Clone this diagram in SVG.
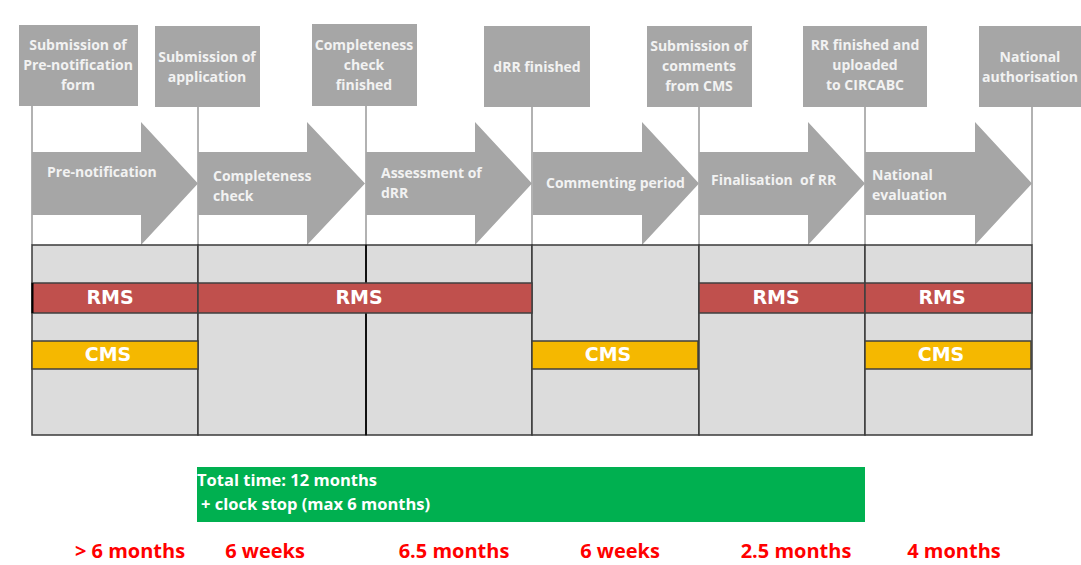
<svg xmlns="http://www.w3.org/2000/svg" width="1081" height="565" viewBox="0 0 1081 565">
<style>
.box{fill:#a6a6a6}
.bt{font-family:"Open Sans","DejaVu Sans",sans-serif;font-weight:bold;font-size:14px;fill:#f2f2f2;text-anchor:middle}
.at{font-family:"Open Sans","DejaVu Sans",sans-serif;font-weight:bold;font-size:14px;fill:#f2f2f2}
.arrow{fill:#a6a6a6}
.vl{stroke:#7f7f7f;stroke-width:1.2;fill:none}
.cell{fill:#dcdcdc;stroke:#3a3a3a;stroke-width:1.5}
.rms{fill:#c0504d;stroke:#3f3f3f;stroke-width:1.5}
.cms{fill:#f5b800;stroke:#3f3f3f;stroke-width:1.5}
.bar{font-family:"DejaVu Sans",sans-serif;font-weight:bold;font-size:19px;fill:#ffffff;text-anchor:middle}
.gt{font-family:"Open Sans",sans-serif;font-weight:bold;font-size:16.5px;fill:#ffffff}
.dur{font-family:"Open Sans",sans-serif;font-weight:bold;font-size:20px;fill:#ff0000;text-anchor:middle}
</style>
<rect width="1081" height="565" fill="#ffffff"/>

<g id="connectors">
<line class="vl" x1="32" y1="106" x2="32" y2="245"/>
<line class="vl" x1="198" y1="107" x2="198" y2="245"/>
<line class="vl" x1="366" y1="106" x2="366" y2="245"/>
<line class="vl" x1="532" y1="107" x2="532" y2="245"/>
<line class="vl" x1="699" y1="107" x2="699" y2="245"/>
<line class="vl" x1="865" y1="107" x2="865" y2="245"/>
<line class="vl" x1="1032" y1="107" x2="1032" y2="245"/>
</g>

<g id="milestone-1"><rect class="box" x="19" y="25" width="119" height="81"/>
<text class="bt" x="78" y="50">Submission of</text><text class="bt" x="78" y="70">Pre-notification</text><text class="bt" x="78" y="90">form</text></g>
<g id="milestone-2"><rect class="box" x="155" y="26" width="105" height="81"/>
<text class="bt" x="207" y="62">Submission of</text><text class="bt" x="207" y="82">application</text></g>
<g id="milestone-3"><rect class="box" x="312" y="24" width="105" height="82"/>
<text class="bt" x="364" y="50">Completeness</text><text class="bt" x="364" y="70">check</text><text class="bt" x="364" y="90">finished</text></g>
<g id="milestone-4"><rect class="box" x="484" y="26" width="106" height="81"/>
<text class="bt" x="537" y="72">dRR finished</text></g>
<g id="milestone-5"><rect class="box" x="647" y="26" width="105" height="81"/>
<text class="bt" x="699" y="51">Submission of</text><text class="bt" x="699" y="71">comments</text><text class="bt" x="699" y="91">from CMS</text></g>
<g id="milestone-6"><rect class="box" x="803" y="26" width="124" height="81"/>
<text class="bt" x="865" y="50">RR finished and</text><text class="bt" x="865" y="70">uploaded</text><text class="bt" x="865" y="90">to CIRCABC</text></g>
<g id="milestone-7"><rect class="box" x="979" y="26" width="102" height="81"/>
<text class="bt" x="1030" y="62">National</text><text class="bt" x="1030" y="82">authorisation</text></g>

<g id="phase-1"><polygon class="arrow" points="32,152 141,152 141,122 198,183.5 141,245 141,215 32,215"/>
<text class="at" x="47" y="177">Pre-notification</text></g>
<g id="phase-2"><polygon class="arrow" points="198,152 307,152 307,122 365,183.5 307,245 307,215 198,215"/>
<text class="at" x="213" y="181">Completeness</text><text class="at" x="213" y="201">check</text></g>
<g id="phase-3"><polygon class="arrow" points="366,152 475,152 475,122 532,183.5 475,245 475,215 366,215"/>
<text class="at" x="381" y="178">Assessment of</text><text class="at" x="381" y="198">dRR</text></g>
<g id="phase-4"><polygon class="arrow" points="533,152 642,152 642,122 699,183.5 642,245 642,215 533,215"/>
<text class="at" x="546" y="188">Commenting period</text></g>
<g id="phase-5"><polygon class="arrow" points="699,152 808,152 808,122 865,183.5 808,245 808,215 699,215"/>
<text class="at" x="711" y="185" xml:space="preserve">Finalisation  of RR</text></g>
<g id="phase-6"><polygon class="arrow" points="865,152 975,152 975,122 1032,183.5 975,245 975,215 865,215"/>
<text class="at" x="872" y="180">National</text><text class="at" x="872" y="200">evaluation</text></g>

<g id="table">
<rect class="cell" x="32" y="245" width="166" height="190"/>
<rect class="cell" x="198" y="245" width="168" height="190"/>
<rect class="cell" x="366" y="245" width="166" height="190"/>
<rect class="cell" x="532" y="245" width="167" height="190"/>
<rect class="cell" x="699" y="245" width="166" height="190"/>
<rect class="cell" x="865" y="245" width="167" height="190"/>
<line x1="366" y1="245" x2="366" y2="435" stroke="#111" stroke-width="2"/>
</g>

<g id="rms-1"><rect class="rms" x="32" y="283" width="166" height="30"/><line x1="32.5" y1="283" x2="32.5" y2="313" stroke="#000" stroke-width="2"/><text class="bar" x="110" y="304">RMS</text></g>
<g id="rms-2"><rect class="rms" x="198" y="283" width="334" height="30"/><text class="bar" x="359" y="304">RMS</text></g>
<g id="rms-3"><rect class="rms" x="699" y="283" width="166" height="30"/><text class="bar" x="776" y="304">RMS</text></g>
<g id="rms-4"><rect class="rms" x="865" y="283" width="167" height="30"/><text class="bar" x="942" y="304">RMS</text></g>

<g id="cms-1"><rect class="cms" x="32" y="341" width="166" height="28"/><text class="bar" x="108" y="361">CMS</text></g>
<g id="cms-2"><rect class="cms" x="532" y="341" width="166" height="28"/><text class="bar" x="608" y="361">CMS</text></g>
<g id="cms-3"><rect class="cms" x="865" y="341" width="166" height="28"/><text class="bar" x="941" y="361">CMS</text></g>

<g id="total-time"><rect x="197" y="467" width="668" height="55" fill="#00b050"/>
<text class="gt" x="197" y="486">Total time: 12 months</text>
<text class="gt" x="201" y="510">+ clock stop (max 6 months)</text></g>

<g id="durations">
<text class="dur" x="130" y="558">&gt; 6 months</text>
<text class="dur" x="265" y="558">6 weeks</text>
<text class="dur" x="454" y="558">6.5 months</text>
<text class="dur" x="620" y="558">6 weeks</text>
<text class="dur" x="796" y="558">2.5 months</text>
<text class="dur" x="954" y="558">4 months</text>
</g>
</svg>
